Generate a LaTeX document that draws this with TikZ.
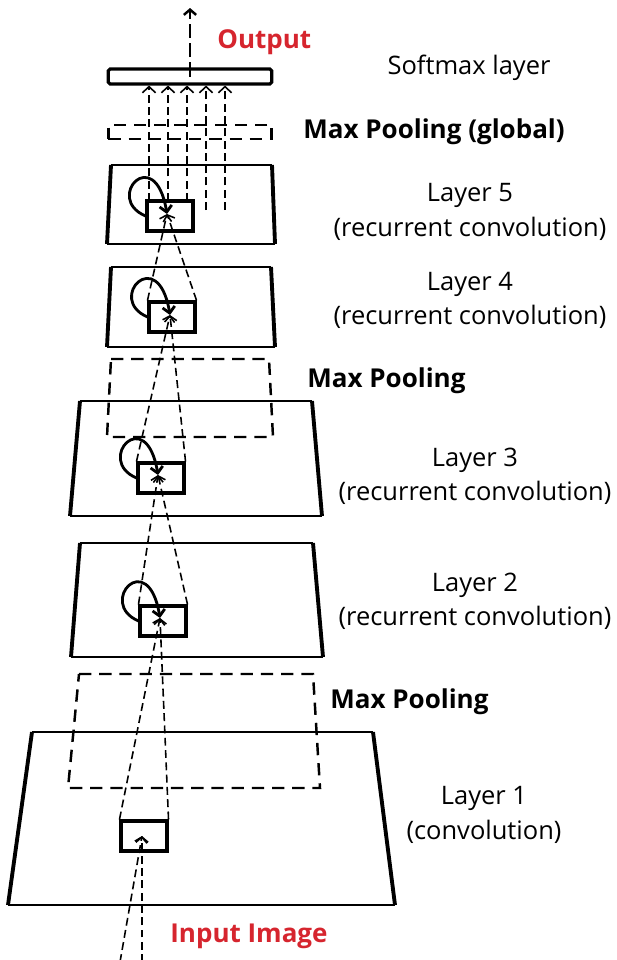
\documentclass[tikz,border=0pt]{standalone}
\usepackage{fontspec}
\setmainfont{Open Sans}
\usetikzlibrary{arrows.meta,calc}
\definecolor{labred}{HTML}{D6252E}
\tikzstyle{layer} = [line width=1.3pt]
\tikzstyle{side} = [line width=2.2pt]
\tikzstyle{pool} = [line width=1.4pt,dash pattern=on 7pt off 4.5pt]
\tikzstyle{cell} = [draw,line width=1.9pt,inner sep=0,minimum width=26pt,minimum height=17pt]
\tikzstyle{bar} = [draw,line width=1.8pt,rounded corners=1pt,inner sep=0,minimum width=93pt,minimum height=8.5pt]
\tikzstyle{gpool} = [pool,draw,inner sep=0,minimum width=93pt,minimum height=8pt]
\tikzstyle{flow} = [line width=0.9pt,dash pattern=on 4.5pt off 2.5pt,-{Straight Barb[length=3pt,width=7pt]}]
\tikzstyle{up} = [flow,-{Straight Barb[length=3.5pt,width=7.5pt]}]
\tikzstyle{recur} = [line width=1.6pt,-{Straight Barb[length=3.5pt,width=7pt]}]
\tikzstyle{txt} = [font=\fontsize{14.5}{19.5}\selectfont,align=center,inner sep=0]
\tikzstyle{bold} = [font=\fontsize{14.8}{17}\selectfont\bfseries,inner sep=0]

\begin{document}
\begin{tikzpicture}[x=0.02cm,y=-0.02cm]
  \useasboundingbox (0,0) rectangle (616,960);
  % softmax and global pooling
  \node[bar] (sm) at (190,76.5) {};
  \node[gpool] (gp) at (190,132) {};
  \coordinate (top) at (190,8);
  \draw[line width=1.4pt,dash pattern=on 8pt off 3pt,-{Straight Barb[length=3pt,width=7pt]}] (sm.center) -- (top);
  \node[bold,text=labred,anchor=west] (out) at (217,42) {Output};
  \node[txt] (lsm) at (469,68) {Softmax layer};
  \node[bold,anchor=west] (lgp) at (303,132) {Max Pooling (global)};
  % layer 5
  \draw[layer] (111,165) -- (272,165) (107,244) -- (275,244);
  \draw[side] (111,165) -- (107,244) (272,165) -- (275,244);
  \node[cell] (c5) at (170,216) {};
  \coordinate (p5) at (167,214);
  \node[txt] (l5) at (470,212) {Layer 5\\(recurrent convolution)};
  % layer 4
  \draw[layer] (111,267) -- (271,267) (107,347) -- (275,347);
  \draw[side] (111,267) -- (107,347) (271,267) -- (275,347);
  \node[cell] (c4) at (172,317) {};
  \coordinate (p4) at (170,315);
  \node[txt] (l4) at (470,300) {Layer 4\\(recurrent convolution)};
  % pooling
  \draw[pool] (111,359) -- (269,359) -- (273,437) -- (107,437) -- cycle;
  \node[bold,anchor=west] (mp2) at (307,381) {Max Pooling};
  % layer 3
  \draw[layer] (80,401) -- (312,401) (70,516) -- (322,516);
  \draw[side] (80,401) -- (70,516) (312,401) -- (322,516);
  \node[cell] (c3) at (161,478) {};
  \coordinate (p3) at (158,475);
  \node[txt] (l3) at (475,476) {Layer 3\\(recurrent convolution)};
  % layer 2
  \draw[layer] (80,543) -- (313,543) (71,657) -- (323,657);
  \draw[side] (80,543) -- (71,657) (313,543) -- (323,657);
  \node[cell] (c2) at (163,621) {};
  \coordinate (p2) at (160,618);
  \node[txt] (l2) at (475,601) {Layer 2\\(recurrent convolution)};
  % pooling
  \draw[pool] (79,674) -- (313,674) -- (320,788) -- (68,788) -- cycle;
  \node[bold,anchor=west] (mp1) at (330,702) {Max Pooling};
  % layer 1
  \draw[layer] (32,732) -- (373,732) (8,905) -- (395,905);
  \draw[side] (32,732) -- (8,905) (373,732) -- (395,905);
  \node[cell] (c1) at (144,836) {};
  \coordinate (p1) at (142,836);
  \node[txt] (l1) at (484,815) {Layer 1\\(convolution)};
  \node[bold,text=labred,anchor=west] (in) at (170,936) {Input Image};
  % connections
  \coordinate (in1) at (120,962);
  \coordinate (in2) at (142,962);
  \draw[flow] (in1) -- (p1);
  \draw[flow] (in2) -- (p1);
  \draw[flow] (c1.north west) -- (p2);
  \draw[flow] (c1.north east) -- (p2);
  \draw[flow] (c2.north west) -- (p3);
  \draw[flow] (c2.north east) -- (p3);
  \draw[flow] (c3.north west) -- (p4);
  \draw[flow] (c3.north east) -- (p4);
  \draw[flow] (c4.north west) -- (p5);
  \draw[flow] (c4.north east) -- (p5);
  \foreach \x/\y in {149/201,168/201,187/201,206/210,225/210}
    \draw[up] (\x,\y) -- (\x,\y |- sm.south);
  % recurrent loops
  \draw[recur] (c5.west) .. controls +(-42,-18) and +(-12,-72) .. (p5);
  \draw[recur] (c4.west) .. controls +(-42,-18) and +(-12,-72) .. (p4);
  \draw[recur] (c3.west) .. controls +(-42,-18) and +(-12,-72) .. (p3);
  \draw[recur] (c2.west) .. controls +(-42,-18) and +(-12,-72) .. (p2);
\end{tikzpicture}
\end{document}
